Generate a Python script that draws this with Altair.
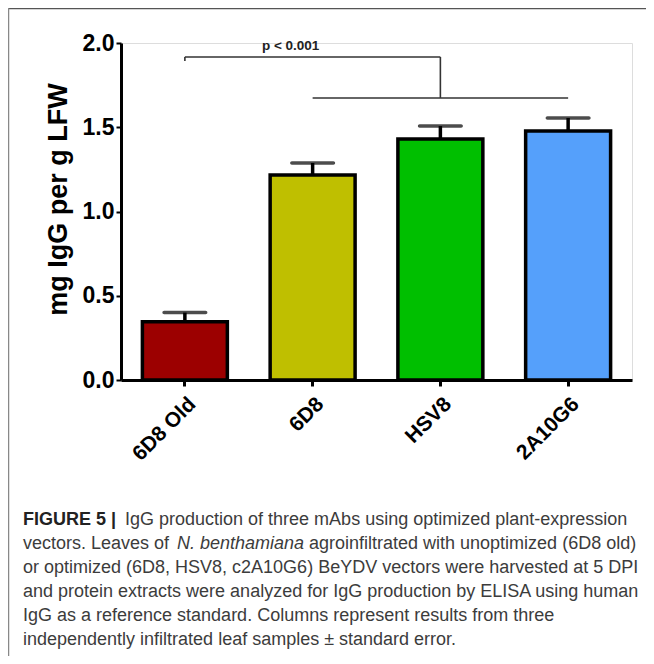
import altair as alt
import pandas as pd

# ---- data ----
categories = ["6D8 Old", "6D8", "HSV8", "2A10G6"]
means = [0.346, 1.217, 1.430, 1.478]
sems = [0.054, 0.071, 0.077, 0.077]
colors = ["#9c0000", "#bfbf00", "#00bf00", "#55a0fb"]

y_ticks = [0.0, 0.5, 1.0, 1.5, 2.0]
y_title = "mg IgG per g LFW"

# significance bracket
br_upper_y = 1.917
br_lower_y = 1.674
br_tick_end = 1.893
p_label = "p < 0.001"
p_label_y = 1.98

caption_lines = [
    [("FIGURE 5 |", "bold", "normal", 0), ("IgG production of three mAbs using optimized plant-expression", "normal", "normal", 102)],
    [("vectors. Leaves of", "normal", "normal", 0), ("N. benthamiana", "normal", "italic", 154), ("agroinfiltrated with unoptimized (6D8 old)", "normal", "normal", 286)],
    [("or optimized (6D8, HSV8, c2A10G6) BeYDV vectors were harvested at 5 DPI", "normal", "normal", 0)],
    [("and protein extracts were analyzed for IgG production by ELISA using human", "normal", "normal", 0)],
    [("IgG as a reference standard. Columns represent results from three", "normal", "normal", 0)],
    [("independently infiltrated leaf samples \u00b1 standard error.", "normal", "normal", 0)],
]

df = pd.DataFrame({
    "cat": categories,
    "mean": means,
    "top": [m + s for m, s in zip(means, sems)],
})

FONT = "Liberation Sans"
W, H = 511, 337

xscale = alt.Scale(domain=categories, paddingInner=0.335, paddingOuter=0.1675)
yscale = alt.Scale(domain=[0, 2], nice=False)

x_enc = alt.X("cat:N", scale=xscale, sort=categories,
              axis=alt.Axis(title=None, labelAngle=315, labelFont=FONT, labelFontSize=21,
                            labelFontWeight="bold", labelColor="black", domainColor="black",
                            domainWidth=3, tickColor="black", tickWidth=3, tickSize=6,
                            labelPadding=7))
y_enc = alt.Y("mean:Q", scale=yscale,
              axis=alt.Axis(title=y_title, values=y_ticks, format=".1f", labelFont=FONT,
                            labelFontSize=23, labelFontWeight="bold", labelColor="black",
                            domainColor="black", domainWidth=3, tickColor="black",
                            tickWidth=2, tickSize=5, labelPadding=2, grid=False,
                            titleFont=FONT, titleFontSize=27, titleFontWeight="bold",
                            titleColor="black", titlePadding=10, titleY=156))

bars = alt.Chart(df).mark_bar(stroke="black", strokeWidth=3.5).encode(
    x=x_enc,
    y=y_enc,
    color=alt.Color("cat:N", scale=alt.Scale(domain=categories, range=colors), legend=None),
)

stems = alt.Chart(df).mark_rule(color="black", strokeWidth=3.5).encode(
    x=alt.X("cat:N", scale=xscale, sort=categories),
    y=alt.Y("mean:Q", scale=yscale),
    y2="top:Q",
)
caps = alt.Chart(df).mark_tick(color="black", thickness=3.5, size=45, cornerRadius=2).encode(
    x=alt.X("cat:N", scale=xscale, sort=categories),
    y=alt.Y("top:Q", scale=yscale),
)

br_h = pd.DataFrame({
    "a": [categories[0], categories[1]],
    "b": [categories[2], categories[3]],
    "y": [br_upper_y, br_lower_y],
})
br_v = pd.DataFrame({
    "c": [categories[2], categories[0]],
    "y1": [br_upper_y, br_upper_y],
    "y2": [br_lower_y, br_tick_end],
})
bracket_h = alt.Chart(br_h).mark_rule(color="#333333", strokeWidth=1.6).encode(
    x=alt.X("a:N", scale=xscale, sort=categories),
    x2="b:N",
    y=alt.Y("y:Q", scale=yscale),
)
bracket_v = alt.Chart(br_v).mark_rule(color="#333333", strokeWidth=1.6).encode(
    x=alt.X("c:N", scale=xscale, sort=categories),
    y=alt.Y("y1:Q", scale=yscale),
    y2="y2:Q",
)
ptext = alt.Chart(pd.DataFrame({"c": [categories[1]], "y": [p_label_y], "t": [p_label]})).mark_text(
    font=FONT, fontSize=13.5, fontWeight="bold", color="#222222", dx=-22
).encode(
    x=alt.X("c:N", scale=xscale, sort=categories),
    y=alt.Y("y:Q", scale=yscale),
    text="t:N",
)

# frame around the figure
frame_top = alt.Chart(pd.DataFrame({"d": [0]})).mark_rule(color="#555555", strokeWidth=1.5).encode(
    x=alt.value(-113), x2=alt.value(W + 20), y=alt.value(-34.5))
frame_left = alt.Chart(pd.DataFrame({"d": [0]})).mark_rule(color="#888888", strokeWidth=1.5).encode(
    x=alt.value(-112.5), y=alt.value(-35), y2=alt.value(H + 280))

cap_layers = []
cap_x0 = -98
cap_y0 = 477
cap_dy = 24
for i, segs in enumerate(caption_lines):
    for text, weight, style, off in segs:
        cap_layers.append(
            alt.Chart(pd.DataFrame({"t": [text]})).mark_text(
                font=FONT, fontSize=18, fontWeight=weight, fontStyle=style,
                color="#3c3c3c" if weight == "normal" else "#222222",
                align="left", baseline="middle",
            ).encode(text="t:N", x=alt.value(cap_x0 + off), y=alt.value(cap_y0 + i * cap_dy))
        )

chart = alt.layer(bars, stems, caps, bracket_h, bracket_v, ptext, frame_top, frame_left, *cap_layers).properties(
    width=W, height=H,
    autosize=alt.AutoSizeParams(type="none"),
    padding={"left": 113, "top": 35, "right": 14, "bottom": 276},
).configure_view(stroke=None).configure(background="white")

chart.save("out.html", embed_options={"renderer": "svg", "actions": False})
